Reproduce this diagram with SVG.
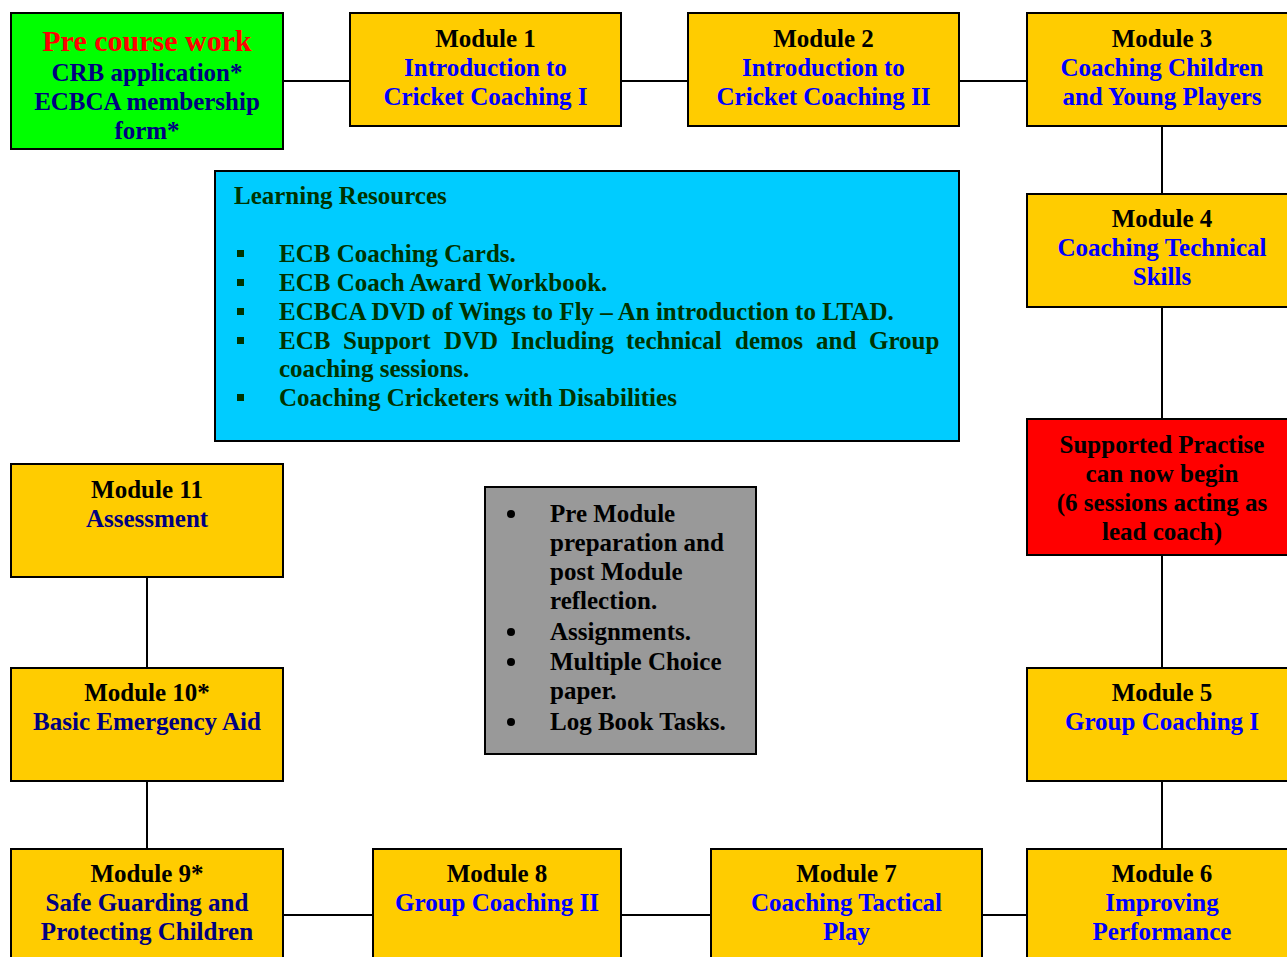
<svg xmlns="http://www.w3.org/2000/svg" width="1287" height="957" viewBox="0 0 1287 957">
<style>
.box{stroke:#000;stroke-width:2}
.mod{fill:#FFCC00}
.t{font-family:"Liberation Serif","Times New Roman",serif;font-weight:bold;font-size:25px;text-anchor:middle}
.k{fill:#000}
.b{fill:#0000FF}
.n{fill:#000080}
.g{fill:#003300}
.lr{font-family:"Liberation Serif","Times New Roman",serif;font-weight:bold;font-size:25px}
.ln{stroke:#000;stroke-width:2;fill:none}
</style>
<rect width="1287" height="957" fill="#fff"/>
<g id="connectors">
<path class="ln" d="M283 81H350M621 81H688M959 81H1027M1162 126V194M1162 307V419M1162 555V668M1162 781V849M283 915H373M621 915H711M982 915H1027M147 577V668M147 781V849"/>
</g>
<g id="pre">
<rect class="box" x="11" y="13" width="272" height="136" fill="#00FF00"/>
<text class="t" x="147" y="51" style="font-size:30px;fill:#FF0000">Pre course work</text>
<text class="t n" x="147" y="81">CRB application*</text>
<text class="t n" x="147" y="110">ECBCA membership</text>
<text class="t n" x="147" y="139">form*</text>
</g>
<g id="m1">
<rect class="box mod" x="350" y="13" width="271" height="113"/>
<text class="t k" x="485.5" y="47">Module 1</text>
<text class="t b" x="485.5" y="76">Introduction to</text>
<text class="t b" x="485.5" y="105">Cricket Coaching I</text>
</g>
<g id="m2">
<rect class="box mod" x="688" y="13" width="271" height="113"/>
<text class="t k" x="823.5" y="47">Module 2</text>
<text class="t b" x="823.5" y="76">Introduction to</text>
<text class="t b" x="823.5" y="105">Cricket Coaching II</text>
</g>
<g id="m3">
<rect class="box mod" x="1027" y="13" width="272" height="113"/>
<text class="t k" x="1162" y="47">Module 3</text>
<text class="t b" x="1162" y="76">Coaching Children</text>
<text class="t b" x="1162" y="105">and Young Players</text>
</g>
<g id="m4">
<rect class="box mod" x="1027" y="194" width="272" height="113"/>
<text class="t k" x="1162" y="227">Module 4</text>
<text class="t b" x="1162" y="256">Coaching Technical</text>
<text class="t b" x="1162" y="285">Skills</text>
</g>
<g id="practise">
<rect class="box" x="1027" y="419" width="272" height="136" fill="#FF0000"/>
<text class="t k" x="1162" y="453">Supported Practise</text>
<text class="t k" x="1162" y="482">can now begin</text>
<text class="t k" x="1162" y="511">(6 sessions acting as</text>
<text class="t k" x="1162" y="540">lead coach)</text>
</g>
<g id="m5">
<rect class="box mod" x="1027" y="668" width="272" height="113"/>
<text class="t k" x="1162" y="701">Module 5</text>
<text class="t b" x="1162" y="730">Group Coaching I</text>
</g>
<g id="m6">
<rect class="box mod" x="1027" y="849" width="272" height="120"/>
<text class="t k" x="1162" y="882">Module 6</text>
<text class="t b" x="1162" y="911">Improving</text>
<text class="t b" x="1162" y="940">Performance</text>
</g>
<g id="m7">
<rect class="box mod" x="711" y="849" width="271" height="120"/>
<text class="t k" x="846.5" y="882">Module 7</text>
<text class="t b" x="846.5" y="911">Coaching Tactical</text>
<text class="t b" x="846.5" y="940">Play</text>
</g>
<g id="m8">
<rect class="box mod" x="373" y="849" width="248" height="120"/>
<text class="t k" x="497" y="882">Module 8</text>
<text class="t b" x="497" y="911">Group Coaching II</text>
</g>
<g id="m9">
<rect class="box mod" x="11" y="849" width="272" height="120"/>
<text class="t k" x="147" y="882">Module 9*</text>
<text class="t n" x="147" y="911">Safe Guarding and</text>
<text class="t n" x="147" y="940">Protecting Children</text>
</g>
<g id="m10">
<rect class="box mod" x="11" y="668" width="272" height="113"/>
<text class="t k" x="147" y="701">Module 10*</text>
<text class="t n" x="147" y="730">Basic Emergency Aid</text>
</g>
<g id="m11">
<rect class="box mod" x="11" y="464" width="272" height="113"/>
<text class="t k" x="147" y="498">Module 11</text>
<text class="t n" x="147" y="527">Assessment</text>
</g>
<g id="resources">
<rect class="box" x="215" y="171" width="744" height="270" fill="#00CCFF"/>
<text class="lr g" x="234" y="204">Learning Resources</text>
<g fill="#003300">
<rect x="237" y="250" width="7" height="7"/>
<rect x="237" y="279" width="7" height="7"/>
<rect x="237" y="308" width="7" height="7"/>
<rect x="237" y="337" width="7" height="7"/>
<rect x="237" y="394" width="7" height="7"/>
</g>
<text class="lr g" x="279" y="262">ECB Coaching Cards.</text>
<text class="lr g" x="279" y="291">ECB Coach Award Workbook.</text>
<text class="lr g" x="279" y="320">ECBCA DVD of Wings to Fly – An introduction to LTAD.</text>
<text class="lr g" y="349"><tspan x="279">ECB</tspan><tspan x="343">Support</tspan><tspan x="444">DVD</tspan><tspan x="511">Including</tspan><tspan x="626">technical</tspan><tspan x="735">demos</tspan><tspan x="816">and</tspan><tspan x="869">Group</tspan></text>
<text class="lr g" x="279" y="377">coaching sessions.</text>
<text class="lr g" x="279" y="406">Coaching Cricketers with Disabilities</text>
</g>
<g id="tasks">
<rect class="box" x="485" y="487" width="271" height="267" fill="#999999"/>
<g fill="#000">
<circle cx="511" cy="514" r="4"/>
<circle cx="511" cy="632" r="4"/>
<circle cx="511" cy="662" r="4"/>
<circle cx="511" cy="722" r="4"/>
</g>
<text class="lr k" x="550" y="522">Pre Module</text>
<text class="lr k" x="550" y="551">preparation and</text>
<text class="lr k" x="550" y="580">post Module</text>
<text class="lr k" x="550" y="609">reflection.</text>
<text class="lr k" x="550" y="640">Assignments.</text>
<text class="lr k" x="550" y="670">Multiple Choice</text>
<text class="lr k" x="550" y="699">paper.</text>
<text class="lr k" x="550" y="730">Log Book Tasks.</text>
</g>
</svg>
